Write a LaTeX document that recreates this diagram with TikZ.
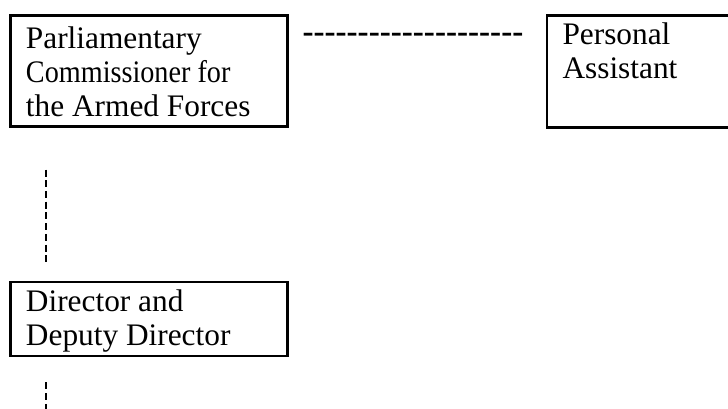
\documentclass[tikz,border=0pt]{standalone}
\usepackage{fontspec}
\setmainfont{Liberation Serif}
\usetikzlibrary{positioning,calc}

\newcommand{\hyphenrow}{\foreach \i in {1,...,20}{\mbox{-}}}

\begin{document}
\begin{tikzpicture}[
  x=0.383pt, y=-0.383pt,
  font=\fontsize{12}{13}\selectfont,
  box/.style={draw, line width=1pt, align=flush left, inner xsep=6pt, inner ysep=0pt},
  vdash/.style={line width=0.8pt, dash pattern=on 2.7pt off 1.4pt}]
\useasboundingbox (0,0) rectangle (728,409);
\node[box, anchor=north west, text width=94.1pt, text height=12.6pt, text depth=29.9pt]
  (parl) at (9,14) {Parliamentary\\\scalebox{0.9}[1]{Commissioner for}\\the Armed Forces};
\node[box, right=98.4pt of parl.north east, anchor=north west, text width=57.7pt,
  text height=11.1pt, text depth=31.8pt] (pa) {Personal\\Assistant};
\node[box, below=58.6pt of parl.south west, anchor=north west, text width=94.1pt,
  text height=11.5pt, text depth=16.9pt] (dir) {Director and\\Deputy Director};
\node[font=\fontsize{12.7}{13}\selectfont\bfseries, anchor=base west, inner sep=0pt]
  (link) at (302,43) {\hyphenrow};
% dashed lines down the left side
\coordinate (tail) at ($(dir.south west)+(37,57)$);
\draw[vdash] ($(parl.south west)+(37,42)$) -- ($(dir.north west)+(37,-17)$);
\draw[vdash] ($(dir.south west)+(37,25)$) -- (tail);
\end{tikzpicture}
\end{document}
